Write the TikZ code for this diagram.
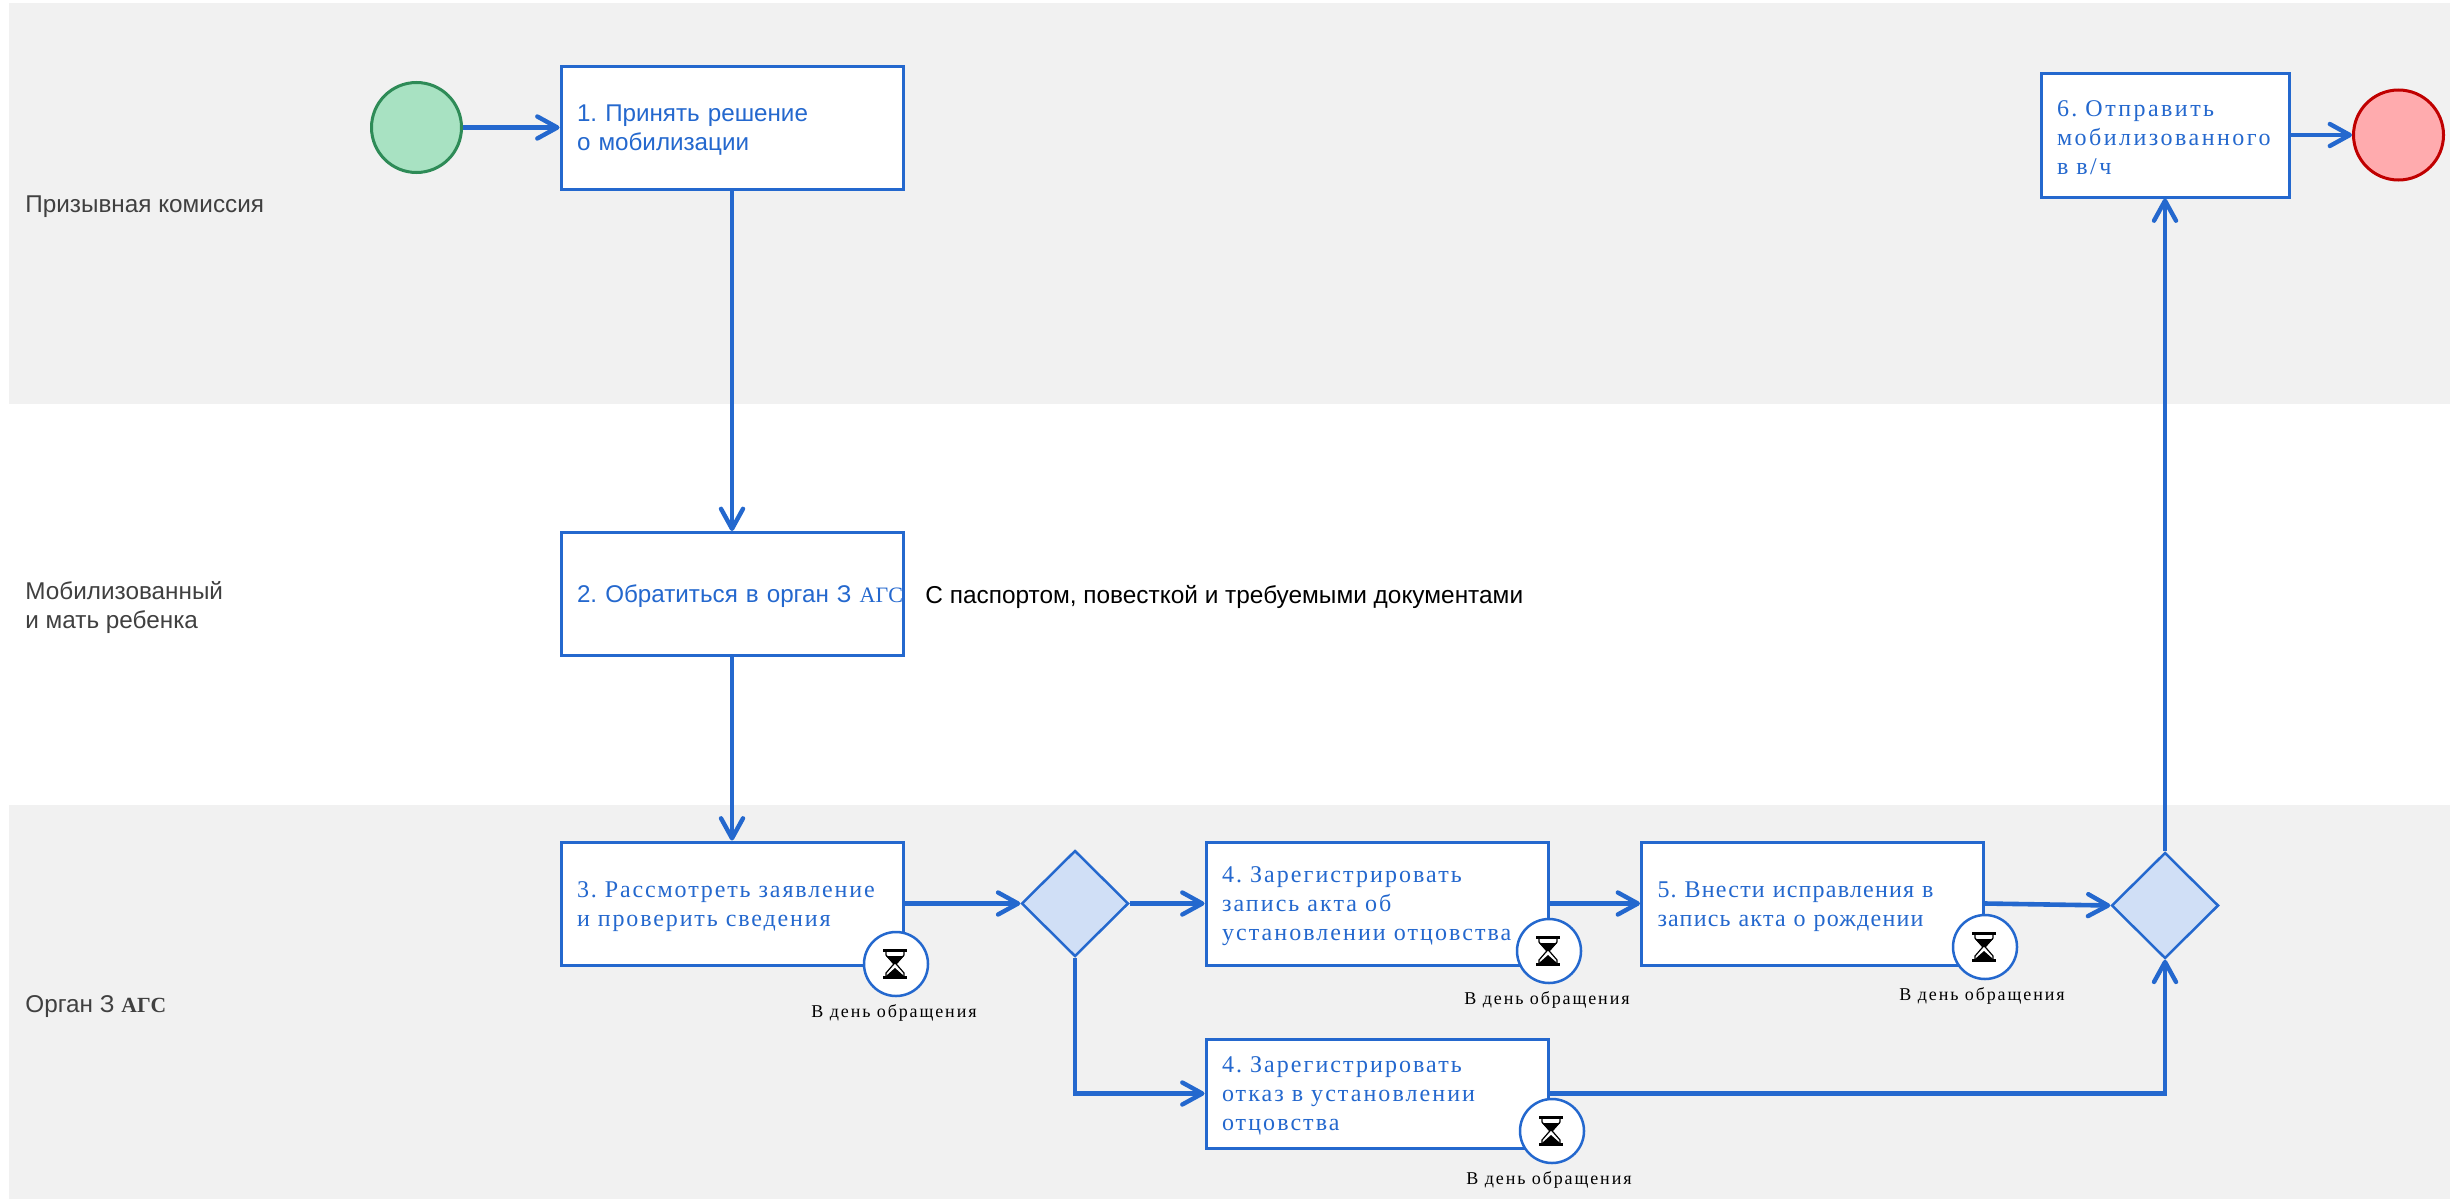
\documentclass[tikz,border=0pt]{standalone}
\usepackage{fontspec}
\usetikzlibrary{arrows.meta,shapes.geometric,calc}
\setmainfont{Liberation Sans}
\frenchspacing
\newfontfamily\srf[LetterSpace=1]{Liberation Serif}
\newfontfamily\srfc[LetterSpace=7.8]{Liberation Serif}
\newfontfamily\srfd[LetterSpace=8.6]{Liberation Serif}
\newfontfamily\srfe[LetterSpace=5]{Liberation Serif}
\newfontfamily\srfb[LetterSpace=10.3]{Liberation Serif}
\newfontfamily\srft[LetterSpace=10.5]{Liberation Serif}
\definecolor{flowblue}{HTML}{2468CE}
\definecolor{bandgray}{HTML}{F1F1F1}
\definecolor{lanetext}{HTML}{404040}
\definecolor{gatefill}{HTML}{D0DFF6}
\definecolor{startfill}{HTML}{A8E2C2}
\definecolor{startline}{HTML}{2E8B57}
\definecolor{endfill}{HTML}{FFABAE}
\definecolor{endline}{HTML}{C00000}
\tikzset{
  band/.style={fill=bandgray,draw=none},
  lane/.style={anchor=west,align=left,text=lanetext,font=\fontsize{12.15}{14.5}\selectfont,inner sep=0pt},
  taskbox/.style={draw=flowblue,line width=1.5pt,fill=white,align=left,inner xsep=8pt,inner ysep=0pt,
     text=flowblue,font=\fontsize{12.1}{14.5}\selectfont,minimum height=61.5pt,
     minimum width=171pt,text width=155pt,execute at begin node={\rule{0pt}{10.6pt}}},
  gate/.style={diamond,aspect=1,draw=flowblue,line width=1.25pt,fill=gatefill,inner sep=0pt,
     minimum width=53.5pt,minimum height=53pt},
  timer/.style={circle,draw=flowblue,line width=1.25pt,fill=white,minimum size=32pt,inner sep=0pt},
  timelabel/.style={font=\fontsize{9}{11}\selectfont\srft,text=black,inner sep=0pt},
  flow/.style={draw=flowblue,line width=2.3pt,-{Straight Barb[length=10pt,width=11pt,line width=2.2pt,round]}},
  hourglass/.pic={
    \fill[black] (-12,-15.3) rectangle (12,-12);
    \fill[black] (-12,12) rectangle (12,15.3);
    \fill[black] (-9,-8) -- (9,-8) -- (1.2,0) -- (-1.2,0) -- cycle;
    \draw[black,line width=.6pt] (-9,-12) -- (-9,-9) -- (-1.2,0) -- (-9,9) -- (-9,12);
    \draw[black,line width=.6pt] (9,-12) -- (9,-9) -- (1.2,0) -- (9,9) -- (9,12);
    \fill[black] (-9,12) -- (0,4) -- (9,12) -- cycle;
  }
}
\begin{document}
\begin{tikzpicture}[x=0.5pt,y=-0.5pt]
\useasboundingbox (0,0) rectangle (2450,1199);
\fill[white] (0,0) rectangle (2450,1199);
\path[band] (9,3) rectangle (2450,404);
\path[band] (9,805) rectangle (2450,1199);

\node[lane] (l1) at (25,207) {Призывная комиссия};
\node[lane] (l2) at (25,607) {Мобилизованный\\и мать ребенка};
\node[lane] (l3) at (25,1007) {Орган З {\srf\bfseries\fontsize{10.8}{14.5}\selectfont АГС}};

\node[circle,draw=startline,fill=startfill,line width=1.5pt,minimum size=45pt,inner sep=0pt] (start) at (416.5,127.5) {};
\node[circle,draw=endline,fill=endfill,line width=1.5pt,minimum size=45pt,inner sep=0pt] (stop) at (2398.5,135) {};

\node[taskbox] (b1) at (732,127.5) {1. Принять решение\\о мобилизации};
\node[taskbox] (b2) at (732,594) {\mbox{2. Обратиться в орган З {\srf\fontsize{11}{14.5}\selectfont АГС}}};
\node[taskbox,font=\fontsize{12}{14.5}\selectfont\srfc] (b3) at (732,903.5) {3. Рассмотреть заявление\\и проверить сведения};
\node[gate] (g1) at (1075,903.5) {};
\node[taskbox,font=\fontsize{12}{14.5}\selectfont\srfd] (b4a) at (1377,903.5) {4. Зарегистрировать\\запись акта об\\установлении отцовства};
\node[taskbox,font=\fontsize{12}{14.5}\selectfont\srfe] (b5) at (1812.5,903.5) {5. Внести исправления в\\запись акта о рождении};
\node[gate] (g2) at (2165,905.5) {};
\node[taskbox,minimum height=54.5pt,font=\fontsize{12}{14.5}\selectfont\srfd] (b4b) at (1377,1093.5) {4. Зарегистрировать\\отказ в установлении\\отцовства};
\node[taskbox,minimum width=124pt,text width=108pt,minimum height=62pt,font=\fontsize{12}{14.5}\selectfont\srfb] (b6) at (2165,135) {6. Отправить\\мобилизованного\\в в/ч};

\node[timer] (t3) at (896,964) {};
\node[timer] (t4a) at (1549,951) {};
\node[timer] (t5) at (1985,947) {};
\node[timer] (t4b) at (1552,1131) {};
\pic at ([xshift=-0.5pt]t3) {hourglass};
\pic at ([xshift=-0.5pt]t4a) {hourglass};
\pic at ([xshift=-0.5pt]t5) {hourglass};
\pic at ([xshift=-0.5pt]t4b) {hourglass};

\node[timelabel] (d3) at (894,1013) {В день обращения};
\node[timelabel] (d4a) at (1547,1000) {В день обращения};
\node[timelabel] (d5) at (1982,996) {В день обращения};
\node[timelabel] (d4b) at (1549,1180) {В день обращения};

\node[anchor=west,inner sep=0pt,text=black,font=\fontsize{12.2}{14.5}\selectfont] (note) at (925,597) {С паспортом, повесткой и требуемыми документами};

\draw[flow] (start) -- (b1);
\draw[flow] (b1) -- (b2);
\draw[flow] (b2) -- (b3);
\draw[flow] (b3) -- (g1);
\draw[flow] (g1) -- (b4a);
\draw[flow] (g1.south) |- (b4b.west);
\draw[flow] (b4a) -- (b5);
\draw[flow] (b5.east) -- (g2.west);
\draw[flow] (b4b.east) -| (g2.south);
\draw[flow] (g2.north) -- (b6.south);
\draw[flow] (b6) -- (stop);
\end{tikzpicture}
\end{document}
